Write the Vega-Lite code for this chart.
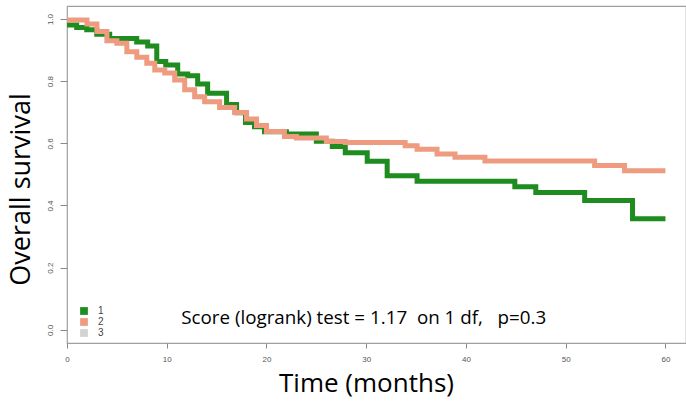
{
  "$schema": "https://vega.github.io/schema/vega-lite/v6.json",
  "width": 619,
  "height": 337,
  "autosize": {"type": "none"},
  "padding": {"left": 67, "top": 6, "right": 0, "bottom": 61},
  "config": {"view": {"stroke": "#a0a0a0", "strokeWidth": 1.2}, "font": "Open Sans"},
  "datasets": {
    "km": [
      {"group": "1", "t": 0, "s": 0.981}, {"group": "1", "t": 0.97, "s": 0.973}, {"group": "1", "t": 1.98, "s": 0.965},
      {"group": "1", "t": 2.98, "s": 0.951}, {"group": "1", "t": 4.28, "s": 0.937}, {"group": "1", "t": 6.99, "s": 0.926},
      {"group": "1", "t": 8.09, "s": 0.913}, {"group": "1", "t": 9.0, "s": 0.863}, {"group": "1", "t": 9.9, "s": 0.852},
      {"group": "1", "t": 11.1, "s": 0.823}, {"group": "1", "t": 12.1, "s": 0.817}, {"group": "1", "t": 13.1, "s": 0.791},
      {"group": "1", "t": 14.1, "s": 0.761}, {"group": "1", "t": 16.0, "s": 0.725}, {"group": "1", "t": 17.0, "s": 0.698},
      {"group": "1", "t": 17.9, "s": 0.667}, {"group": "1", "t": 18.8, "s": 0.653}, {"group": "1", "t": 19.8, "s": 0.637},
      {"group": "1", "t": 22.0, "s": 0.630}, {"group": "1", "t": 25.0, "s": 0.607}, {"group": "1", "t": 26.6, "s": 0.590},
      {"group": "1", "t": 27.9, "s": 0.570}, {"group": "1", "t": 30.1, "s": 0.542}, {"group": "1", "t": 32.1, "s": 0.496},
      {"group": "1", "t": 35.1, "s": 0.478}, {"group": "1", "t": 44.9, "s": 0.460}, {"group": "1", "t": 47.0, "s": 0.442},
      {"group": "1", "t": 51.9, "s": 0.416}, {"group": "1", "t": 56.7, "s": 0.357}, {"group": "1", "t": 60, "s": 0.357},
      {"group": "2", "t": 0, "s": 0.997}, {"group": "2", "t": 2.0, "s": 0.984}, {"group": "2", "t": 3.0, "s": 0.96},
      {"group": "2", "t": 4.0, "s": 0.930}, {"group": "2", "t": 5.0, "s": 0.922}, {"group": "2", "t": 6.0, "s": 0.895},
      {"group": "2", "t": 7.0, "s": 0.877}, {"group": "2", "t": 8.0, "s": 0.858}, {"group": "2", "t": 8.8, "s": 0.836},
      {"group": "2", "t": 9.8, "s": 0.826}, {"group": "2", "t": 10.8, "s": 0.804}, {"group": "2", "t": 11.8, "s": 0.772},
      {"group": "2", "t": 12.8, "s": 0.750}, {"group": "2", "t": 13.8, "s": 0.734}, {"group": "2", "t": 15.3, "s": 0.715},
      {"group": "2", "t": 16.8, "s": 0.699}, {"group": "2", "t": 18.0, "s": 0.678}, {"group": "2", "t": 19.0, "s": 0.657},
      {"group": "2", "t": 20.0, "s": 0.638}, {"group": "2", "t": 21.8, "s": 0.622}, {"group": "2", "t": 23.0, "s": 0.617},
      {"group": "2", "t": 26.0, "s": 0.606}, {"group": "2", "t": 27.9, "s": 0.603}, {"group": "2", "t": 33.9, "s": 0.592},
      {"group": "2", "t": 35.1, "s": 0.581}, {"group": "2", "t": 37.1, "s": 0.566}, {"group": "2", "t": 38.9, "s": 0.555},
      {"group": "2", "t": 41.9, "s": 0.543}, {"group": "2", "t": 52.9, "s": 0.529}, {"group": "2", "t": 55.9, "s": 0.512},
      {"group": "2", "t": 60, "s": 0.512}
    ],
    "note": [
      {"t": 11.45, "s": 0.019, "label": "Score (logrank) test = 1.17\u00a0\u00a0on 1 df,\u00a0\u00a0\u00a0p=0.3"}
    ]
  },
  "layer": [
    {
      "data": {"name": "km"},
      "mark": {"type": "line", "interpolate": "step-after", "strokeWidth": 5, "strokeCap": "butt", "strokeJoin": "miter"},
      "encoding": {
        "x": {
          "field": "t", "type": "quantitative",
          "scale": {"domain": [0, 62.06], "nice": false, "zero": false},
          "axis": {
            "title": "Time (months)", "values": [0, 10, 20, 30, 40, 50, 60], "domain": false, "grid": false,
            "tickColor": "#888", "tickSize": 5, "labelFont": "Liberation Sans", "labelFontSize": 8, "labelColor": "#555",
            "labelPadding": 7, "labelFlush": false,
            "titleFont": "Open Sans", "titleFontSize": 26, "titleFontWeight": "normal", "titleColor": "#000", "titlePadding": 7,
            "titleX": 299, "titleAlign": "center"
          }
        },
        "y": {
          "field": "s", "type": "quantitative",
          "scale": {"domain": [-0.0424, 1.0418], "nice": false, "zero": false},
          "axis": {
            "title": "Overall survival", "values": [0, 0.2, 0.4, 0.6, 0.8, 1.0], "format": ".1f", "domain": false, "grid": false,
            "tickColor": "#888", "tickSize": 7, "labelFont": "Liberation Sans", "labelFontSize": 8, "labelColor": "#555",
            "labelAngle": 270, "labelAlign": "center", "labelBaseline": "bottom", "labelPadding": 6, "labelFlush": false,
            "titleFont": "Open Sans", "titleFontSize": 27, "titleFontWeight": "normal", "titleColor": "#000", "titlePadding": 11,
            "titleY": 183, "titleAlign": "center"
          }
        },
        "color": {
          "field": "group", "type": "nominal",
          "scale": {"domain": ["1", "2", "3"], "range": ["#1E8C1E", "#EE9B7F", "#D3D3D3"]},
          "legend": {
            "orient": "none", "legendX": 12, "legendY": 300, "title": null, "padding": 0,
            "symbolType": "square", "symbolSize": 60, "symbolStrokeWidth": 0, "symbolOpacity": 1,
            "labelFont": "Liberation Sans", "labelFontSize": 10, "labelColor": "#444", "labelOffset": 9,
            "rowPadding": 1,
            "encode": {"symbols": {"update": {"fill": {"scale": "color", "field": "value"}, "fillOpacity": {"value": 1}, "strokeWidth": {"value": 0}}}}
          }
        }
      }
    },
    {
      "data": {"name": "note"},
      "mark": {"type": "text", "align": "left", "baseline": "alphabetic", "fontSize": 18.8, "font": "Open Sans", "color": "#000"},
      "encoding": {
        "x": {"field": "t", "type": "quantitative"},
        "y": {"field": "s", "type": "quantitative"},
        "text": {"field": "label"}
      }
    }
  ]
}
